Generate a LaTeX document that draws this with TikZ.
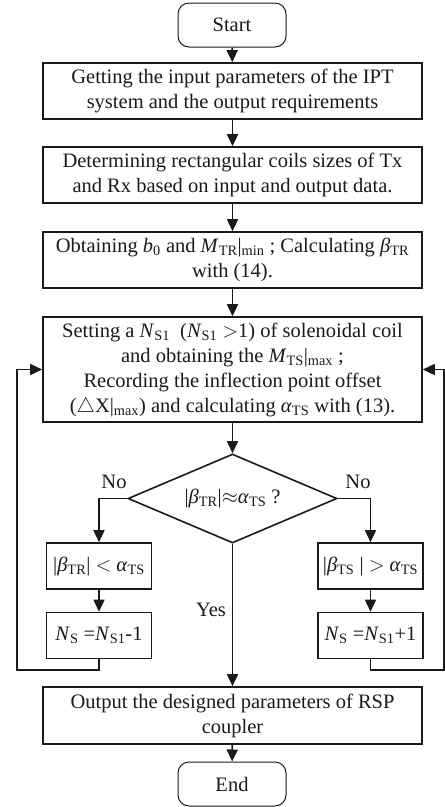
\documentclass[tikz,border=0pt]{standalone}
\usepackage{fontspec}
\setmainfont{Liberation Serif}
\usepackage{tikz}
\usetikzlibrary{arrows.meta,shapes.geometric}
\definecolor{ink}{HTML}{1A1A1A}
\newcommand{\sbs}[1]{\textsubscript{#1}}
\tikzset{
  base/.style={draw=ink, line width=1.6pt},
  flow/.style={base, -{Triangle[length=12pt,width=11pt]}},
  proc/.style={base, rectangle, align=center, inner sep=0pt, text=ink,
    font=\fontsize{20.5}{25}\selectfont},
  wide/.style={proc, minimum width=379pt},
  small/.style={proc, minimum width=105pt, minimum height=46pt},
  term/.style={proc, rounded corners=11pt, line width=1pt, minimum width=108pt, minimum height=44pt},
  dec/.style={proc, diamond, aspect=2.35, minimum width=209pt, minimum height=89pt},
  lab/.style={text=ink, font=\fontsize{20.5}{25}\selectfont},
}
\begin{document}
\begin{tikzpicture}[x=1pt,y=-1pt]
  \useasboundingbox (0,0) rectangle (445,807);
  \node[term] (start) at (232,25) {Start};
  \node[wide, minimum height=56pt] (inp) at (232.5,91)
    {Getting the input parameters of the IPT\\ system and the output requirements};
  \node[wide, minimum height=56pt] (coil) at (232.5,175)
    {Determining rectangular coils sizes of Tx\\ and Rx based on input and output data.};
  \node[wide, minimum height=56pt] (calc) at (232.5,260)
    {Obtaining \textit{b}\sbs{0} and \textit{M}\sbs{TR}|\sbs{min} ; Calculating \textit{β}\sbs{TR}\\ with (14).};
  \node[wide, minimum height=105pt] (set) at (232.5,369.5)
    {Setting a \textit{N}\sbs{S1}~ (\textit{N}\sbs{S1} $>$1) of solenoidal coil\\
     and obtaining the \textit{M}\sbs{TS}|\sbs{max} ;\\
     Recording the inflection point offset\\
     ($\triangle$X|\sbs{max}) and calculating \textit{α}\sbs{TS} with (13).};
  \node[dec] (chk) at (232.5,498.5) {|\textit{β}\sbs{TR}|$\approx$\textit{α}\sbs{TS} ?};
  \node[small] (lt) at (99,566) {|\textit{β}\sbs{TR}| $<$ \textit{α}\sbs{TS}};
  \node[small] (rt) at (370.5,566) {|\textit{β}\sbs{TS} | $>$ \textit{α}\sbs{TS}};
  \node[small] (nl) at (99,635.5) {\textit{N}\sbs{S} =\textit{N}\sbs{S1}-1};
  \node[small] (nr) at (370.5,635.5) {\textit{N}\sbs{S} =\textit{N}\sbs{S1}+1};
  \node[wide, minimum height=57pt] (out) at (232.5,715.5)
    {Output the designed parameters of RSP\\ coupler};
  \node[term] (end) at (232,784) {End};
  \coordinate (lb) at (17,670);
  \coordinate (rb) at (444,670);
  \draw[flow] (start) -- (inp);
  \draw[flow] (inp) -- (coil);
  \draw[flow] (coil) -- (calc);
  \draw[flow] (calc) -- (set);
  \draw[flow] (set) -- (chk);
  \draw[flow] (chk.west) -| (lt.north);
  \draw[flow] (chk.east) -| (rt.north);
  \draw[flow] (lt) -- (nl);
  \draw[flow] (rt) -- (nr);
  \draw[flow] (chk.south) -- (out.north);
  \draw[flow] (nl.south) |- (lb) |- (set.west);
  \draw[flow] (nr.south) |- (rb) |- (set.east);
  \draw[flow] (out) -- (end);
  \node[lab] (nol) at (114,482) {No};
  \node[lab] (nor) at (358,482) {No};
  \node[lab] (yes) at (211,610) {Yes};
\end{tikzpicture}
\end{document}
